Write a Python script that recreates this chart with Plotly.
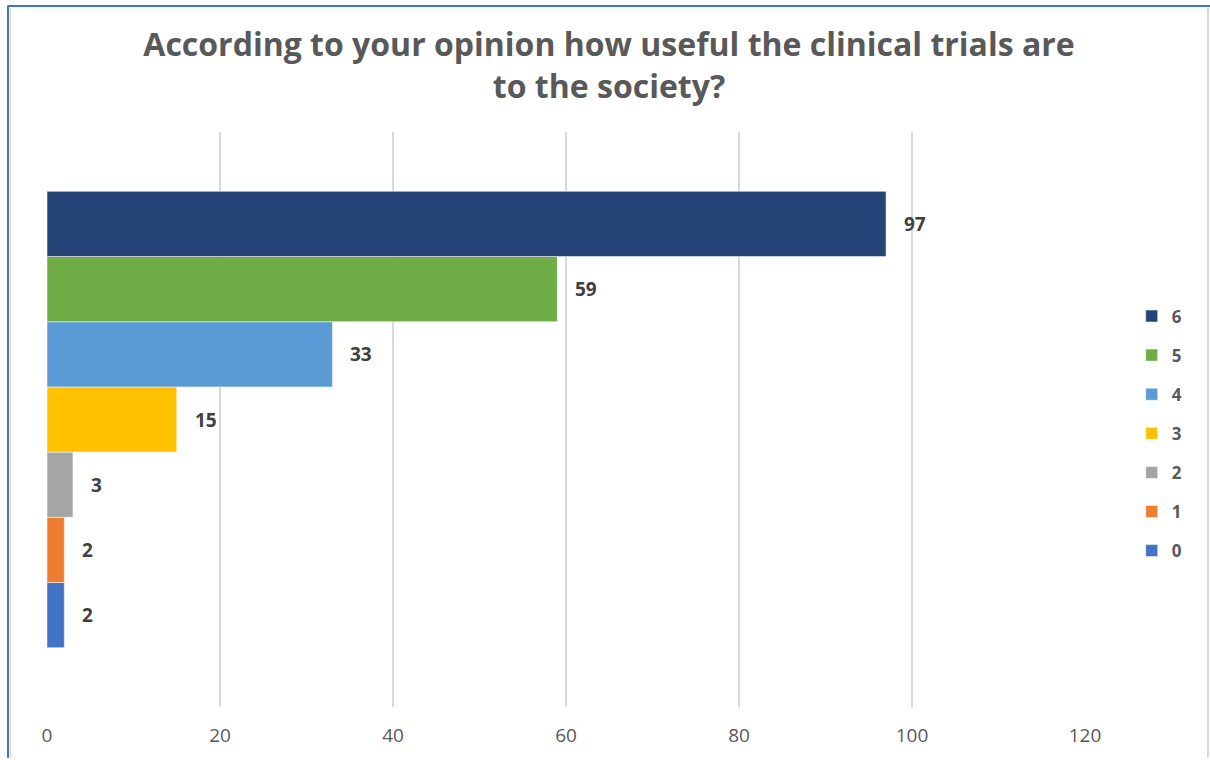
import plotly.graph_objects as go

# Survey responses: usefulness score and number of respondents
scores = ["0", "1", "2", "3", "4", "5", "6"]
counts = [2, 2, 3, 15, 33, 59, 97]
colors = ["#4472C4", "#ED7D31", "#A5A5A5", "#FFC000", "#5B9BD5", "#70AD47", "#264478"]

title_text = "According to your opinion how useful the clinical trials are<br>to the society?"
x_ticks = [0, 20, 40, 60, 80, 100, 120]

FONT = "Open Sans"
GRAY = "#595959"

fig = go.Figure()
# one horizontal bar per score, stacked edge to edge (score 0 at the bottom)
n = len(scores)
for i, (s, c, col) in enumerate(zip(scores, counts, colors)):
    fig.add_trace(go.Bar(
        x=[c], y=[i], width=1, orientation="h", name=s, legendgroup=s,
        legendrank=n - i,
        marker=dict(color=col, line=dict(color="white", width=0.5)),
        hoverinfo="x+name",
    ))
    fig.add_annotation(
        x=c, y=i, xref="x", yref="y", text=f"<b>{c}</b>", showarrow=False,
        xanchor="left", yanchor="middle", xshift=16,
        font=dict(family=FONT, size=19, color="#404040"),
    )

fig.update_layout(
    width=1210, height=760,
    margin=dict(l=47, r=125, t=132, b=51),
    paper_bgcolor="white", plot_bgcolor="white",
    barmode="overlay",
    title=dict(text=title_text, x=0.5033, xref="container", xanchor="center",
               y=0.926, yref="container", yanchor="middle",
               font=dict(family=FONT, size=32, color=GRAY, weight="bold")),
    xaxis=dict(range=[0, 120], tickvals=x_ticks, showgrid=True,
               gridcolor="#D9D9D9", gridwidth=2, zeroline=False,
               showline=False, ticks="", ticklabelstandoff=15,
               tickfont=dict(family=FONT, size=19, color=GRAY)),
    yaxis=dict(range=[-1.41, 7.41], showticklabels=False, showgrid=False,
               zeroline=False, showline=False, ticks=""),
    legend=dict(traceorder="grouped", x=1.045, xanchor="left",
                y=0.4757, yanchor="middle", tracegroupgap=14,
                font=dict(family=FONT, size=17, color=GRAY, weight="bold")),
)

# Chart frame: blue top/left edges, light gray inner and right edges
L, PW = 47, 1038
T, PH = 132, 577
def px_x(p):
    return (p - L) / PW
def px_y(p):
    return (T + PH - p) / PH

fig.add_shape(type="line", xref="paper", yref="paper",
              x0=px_x(8), x1=px_x(1210), y0=px_y(5.5), y1=px_y(5.5),
              line=dict(color="#4472C4", width=2))
fig.add_shape(type="line", xref="paper", yref="paper",
              x0=px_x(8), x1=px_x(8), y0=px_y(5), y1=px_y(760),
              line=dict(color="#4472C4", width=2))
fig.add_shape(type="line", xref="paper", yref="paper",
              x0=px_x(10.5), x1=px_x(10.5), y0=px_y(7), y1=px_y(760),
              line=dict(color="#D9D9D9", width=1.5))
fig.add_shape(type="line", xref="paper", yref="paper",
              x0=px_x(1208), x1=px_x(1208), y0=px_y(7), y1=px_y(760),
              line=dict(color="#D9D9D9", width=2))

fig.write_html("out.html")
